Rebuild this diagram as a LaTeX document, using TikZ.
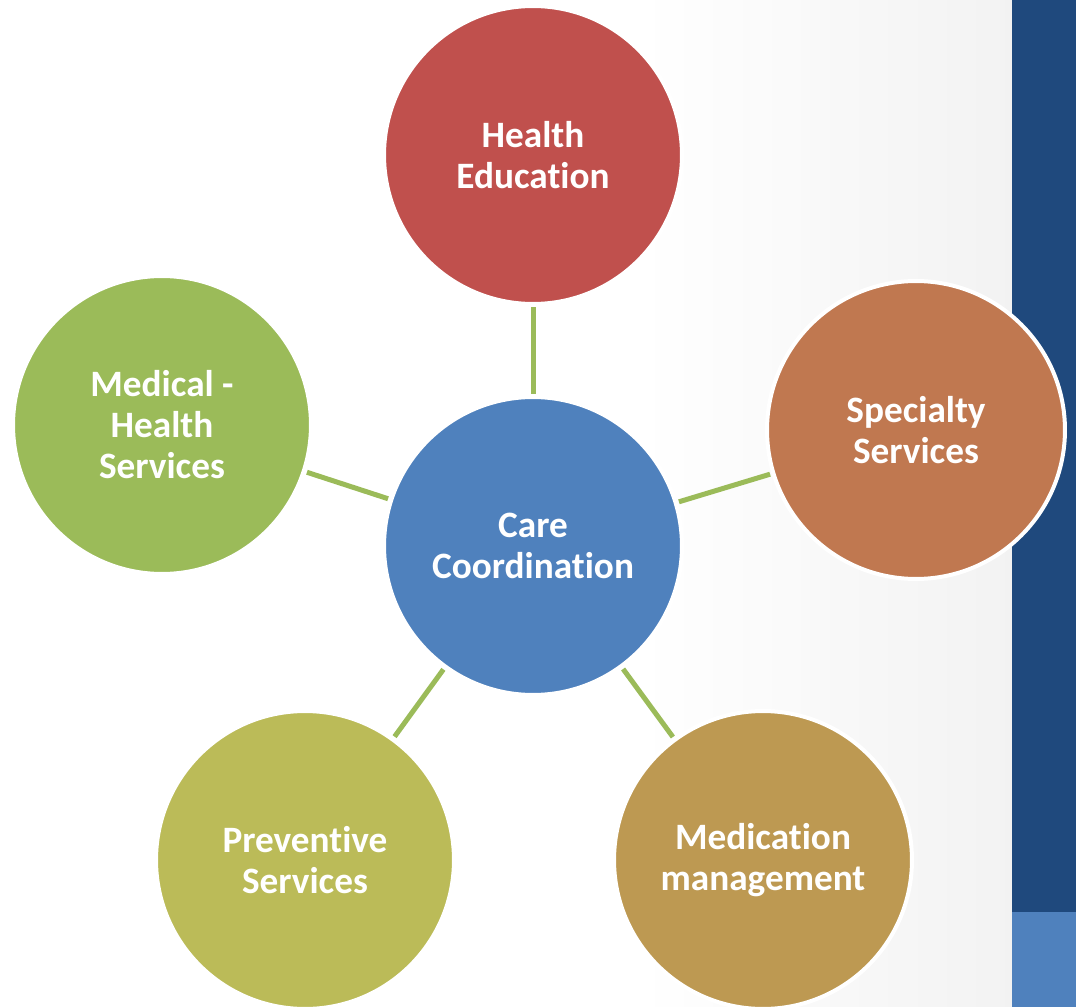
\documentclass[tikz,border=0pt]{standalone}
\usepackage{fontspec}
\setmainfont{Carlito}[Ligatures=NoCommon]
\usetikzlibrary{positioning}
\definecolor{cred}{HTML}{C0504D}
\definecolor{cblue}{HTML}{4F81BD}
\definecolor{cgreen}{HTML}{9BBB59}
\definecolor{corange}{HTML}{C07850}
\definecolor{colive}{HTML}{BBBB58}
\definecolor{cbrown}{HTML}{BD9952}
\definecolor{stripdark}{HTML}{1F497D}
\begin{document}
\begin{tikzpicture}[x=0.02cm, y=-0.02cm, font=\fontsize{21.2}{23.3}\selectfont\bfseries,
	bubble/.style={circle, minimum size=5.96cm, inner sep=0pt, draw=white, line width=0.08cm, text=white, align=center},
	link/.style={draw=cgreen, line width=0.1cm, shorten >=0.03cm, shorten <=0.03cm}]
		\def\W{1076}\def\H{1007}\def\xs{1012}\def\ys{912}
		\useasboundingbox (0,0) rectangle (\W,\H);
		% background and side strip
		\fill[white] (0,0) rectangle (\xs,\H);
		\shade[left color=white, right color=black!5] (640,0) rectangle (\xs,\H);
		\fill[stripdark] (\xs,0) rectangle (\W,\ys);
		\fill[cblue] (\xs,\ys) rectangle (\W,\H);
		% bubbles
		\node[bubble, fill=cblue] (care) at (533,546) {Care\\Coordination};
		\node[bubble, fill=cred] (edu) at (533,155) {Health\\Education};
		\node[bubble, fill=corange] (spec) at (916,430) {Specialty\\Services};
		\node[bubble, fill=cbrown] (med) at (763,860) {Medication\\management};
		\node[bubble, fill=colive] (prev) at (305,860) {Preventive\\Services};
		\node[bubble, fill=cgreen] (mhs) at (162,425) {Medical -\\Health\\Services};
		\foreach \n in {edu,spec,med,prev,mhs} \draw[link] (care) -- (\n);
\end{tikzpicture}
\end{document}
